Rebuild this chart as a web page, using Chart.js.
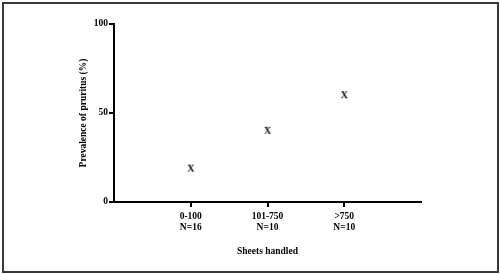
<!DOCTYPE html>
<html>
<head>
<meta charset="utf-8">
<script src="https://cdn.jsdelivr.net/npm/chart.js@4"></script>
<style>
  html, body { margin: 0; padding: 0; background: #fff; }
  #wrap { position: relative; width: 500px; height: 274px; }
  #frame { position: absolute; left: 2px; top: 2px; width: 493px; height: 267px; border: 2px solid #3a3a3a; pointer-events: none; }
</style>
</head>
<body>
<div id="wrap">
  <canvas id="grafico" width="500" height="274"></canvas>
  <div id="frame"></div>
</div>
<script>
// categorias e valores
const categorias = [['0-100', 'N=16'], ['101-750', 'N=10'], ['>750', 'N=10']];
const prevalencia = [18.75, 40, 60];
const ticksY = [0, 50, 100];

const fonte = "'Liberation Serif', 'Times New Roman', serif";

// marcador em forma de letra X
function marcadorX(){
    const c = document.createElement('canvas');
    c.width = 12;
    c.height = 12;
    const g = c.getContext('2d');
    g.fillStyle = '#000';
    g.font = 'bold 10px ' + fonte;
    g.textAlign = 'center';
    g.textBaseline = 'middle';
    g.fillText('X', 6, 6.5);
    return c;
}

const pontos = prevalencia.map((v, i) => ({x: i + 1, y: v}));

const ctx = document.getElementById('grafico');

new Chart(ctx, {
    type: 'scatter',
    data: {
        datasets: [{
            label: 'Prevalence',
            data: pontos,
            pointStyle: marcadorX(),
            pointRadius: 6
        }]
    },
    options: {
        responsive: false,
        animation: false,
        layout: { padding: { top: 24, right: 79, left: 78, bottom: 13 } },
        plugins: { legend: { display: false }, tooltip: { enabled: false } },
        scales: {
            x: {
                type: 'linear',
                min: 0,
                max: 4,
                afterBuildTicks: (s) => { s.ticks = categorias.map((c, i) => ({value: i + 1})); },
                afterFit: (s) => { s.height = 59; },
                grid: { drawOnChartArea: false, drawTicks: true, tickLength: 5, color: '#000', lineWidth: 2 },
                border: { display: true, color: '#000', width: 2 },
                ticks: {
                    color: '#000',
                    padding: 4,
                    maxRotation: 0,
                    font: { family: fonte, size: 9.5, weight: 'bold', lineHeight: 1.15 },
                    callback: (v) => categorias[v - 1] || ''
                },
                title: {
                    display: true,
                    text: 'Sheets handled',
                    color: '#000',
                    padding: { top: 14 },
                    font: { family: fonte, size: 9.5, weight: 'bold' }
                }
            },
            y: {
                min: 0,
                max: 100,
                afterBuildTicks: (s) => { s.ticks = ticksY.map(v => ({value: v})); },
                afterFit: (s) => { s.width = 36; },
                grid: { drawOnChartArea: false, drawTicks: true, tickLength: 5, color: '#000', lineWidth: 2 },
                border: { display: true, color: '#000', width: 2 },
                ticks: {
                    color: '#000',
                    padding: 1,
                    font: { family: fonte, size: 9.5, weight: 'bold' }
                },
                title: {
                    display: true,
                    text: 'Prevalence of pruritus (%)',
                    color: '#000',
                    padding: 0,
                    font: { family: fonte, size: 9.5, weight: 'bold' }
                }
            }
        }
    }
});
</script>
</body>
</html>
